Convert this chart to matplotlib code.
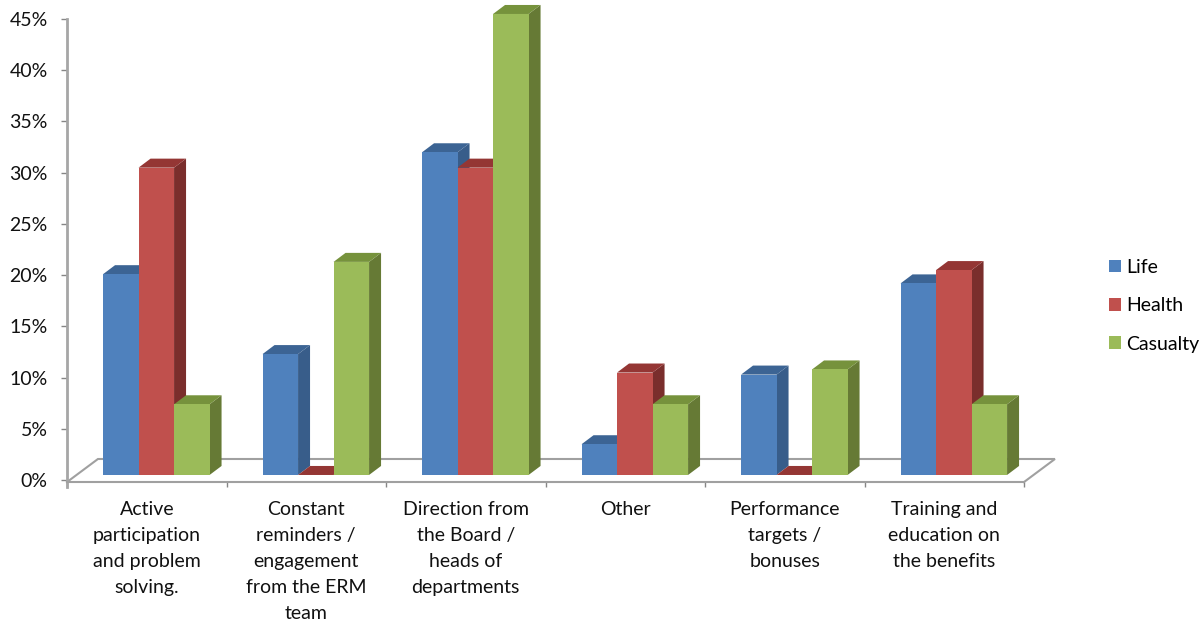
import matplotlib
matplotlib.use('Agg')
import matplotlib.pyplot as plt
from matplotlib.ticker import FuncFormatter

plt.rcParams['font.family'] = ['Lato', 'DejaVu Sans']

categories = ['Active\nparticipation\nand problem\nsolving.',
              'Constant\nreminders /\nengagement\nfrom the ERM\nteam',
              'Direction from\nthe Board /\nheads of\ndepartments',
              'Other',
              'Performance\ntargets /\nbonuses',
              'Training and\neducation on\nthe benefits']
life = [19.6, 11.8, 31.5, 3, 9.8, 18.7]
health = [30, 0, 30, 10, 0, 20]
casualty = [6.9, 20.8, 45, 6.9, 10.3, 6.9]
yticks = [0, 5, 10, 15, 20, 25, 30, 35, 40, 45]

# 假3D的偏移量（数据单位）
bar_w = 0.2226
group_off = 0.226
depth_x = 0.0752
depth_y = 0.88
lift = 0.49
floor_dx = 0.194
floor_back = 2.05
floor_front = -0.2

series = [
    ('Life', life, '#4F81BD', '#385D8A', '#3C6494'),
    ('Health', health, '#C0504D', '#7A2E2C', '#943634'),
    ('Casualty', casualty, '#9BBB59', '#667A35', '#76923C'),
]

fig = plt.figure(figsize=(12.04, 6.22), dpi=100)
ax = fig.add_axes([67 / 1204, 1 - 480 / 622, 957 / 1204, 461 / 622])
ax.set_xlim(0, 6)
ax.set_ylim(0, 45)

# 地板
ax.plot([0, floor_dx, 6 + floor_dx, 6], [floor_front, floor_back, floor_back, floor_front],
        color='#A0A0A0', lw=1.5, clip_on=False, zorder=1, solid_joinstyle='miter')

handles = []
names = []
for i, (name, values, front, side, top) in enumerate(series):
    for c, v in enumerate(values):
        x0 = c + group_off + i * bar_w
        x1 = x0 + bar_w
        y0 = lift
        y1 = lift + v
        z = 2 + i + c * 10
        # 侧面和顶面
        ax.fill([x1, x1 + depth_x, x1 + depth_x, x1],
                [y0, y0 + depth_y, y1 + depth_y, y1],
                color=side, lw=0, clip_on=False, zorder=z)
        ax.fill([x0, x0 + depth_x, x1 + depth_x, x1],
                [y1, y1 + depth_y, y1 + depth_y, y1],
                color=top, lw=0, clip_on=False, zorder=z)
        bars = ax.bar(x0, v, width=bar_w, bottom=lift, align='edge', color=front,
                      lw=0, clip_on=False, zorder=z + 0.5)
        if c == 0:
            handles.append(bars[0])
            names.append(name)

ax.spines['top'].set_visible(False)
ax.spines['right'].set_visible(False)
ax.spines['left'].set_bounds(-0.7, 45)
ax.spines['left'].set_color('#A6A6A6')
ax.spines['left'].set_linewidth(2)
ax.spines['bottom'].set_position(('data', floor_front))
ax.spines['bottom'].set_color('#A0A0A0')
ax.spines['bottom'].set_linewidth(1.5)

ax.set_yticks(yticks)
ax.yaxis.set_major_formatter(FuncFormatter(lambda v, p: '%d%%' % v))
ax.tick_params(axis='y', length=4.3, width=1, color='#868686', pad=9.5, labelsize=14,
               labelcolor='#111111')

ax.set_xticks(range(7))
ax.set_xticklabels([])
ax.tick_params(axis='x', which='major', length=3.6, width=1, color='#868686')
ax.set_xticks([c + 0.5 for c in range(6)], minor=True)
ax.set_xticklabels(categories, minor=True, fontsize=14, color='#111111', linespacing=1.63)
ax.tick_params(axis='x', which='minor', length=0, pad=14)

fig.legend(handles, names, loc='upper left', bbox_to_anchor=(1103 / 1204, 1 - 253 / 622),
           frameon=False, fontsize=14, handlelength=0.62, handleheight=0.62,
           handletextpad=0.27, labelspacing=1.1, borderaxespad=0, borderpad=0.3)

fig.savefig('out.png', dpi=100)
